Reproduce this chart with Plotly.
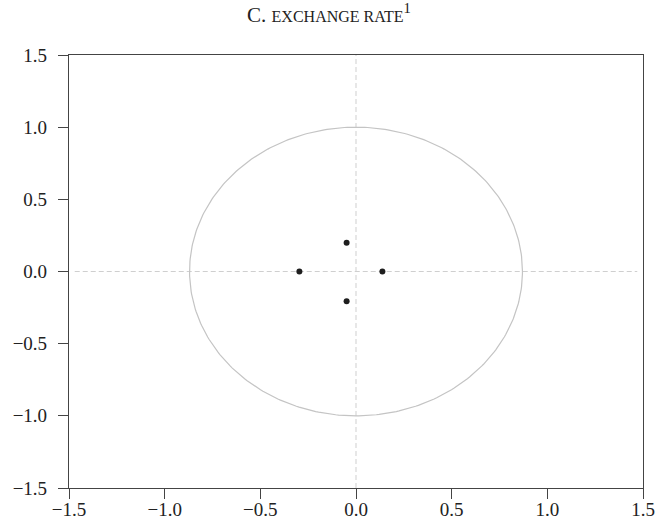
import numpy as np
import plotly.graph_objects as go

# Data: eigenvalue-like points (real, imaginary)
point_x = [-0.296, 0.138, -0.049, -0.049]
point_y = [0.0, 0.0, 0.199, -0.206]

tick_vals = [-1.5, -1.0, -0.5, 0.0, 0.5, 1.0, 1.5]
tick_text = ["\u22121.5", "\u22121.0", "\u22120.5", "0.0", "0.5", "1.0", "1.5"]

circle_rx = 0.87
circle_ry = 1.0

title_text = ("C. <span style='font-size:16px'>EXCHANGE RATE</span>"
              "<sup>1</sup>")

fig = go.Figure()

# reference unit circle
theta = np.linspace(0, 2 * np.pi, 361)
fig.add_trace(go.Scatter(x=circle_rx * np.cos(theta), y=circle_ry * np.sin(theta),
                         mode="lines", line=dict(color="#c4c4c4", width=1.2),
                         hoverinfo="skip", showlegend=False))

# axis cross lines
fig.add_shape(type="line", x0=-1.47, x1=1.47, y0=0, y1=0, xref="x", yref="y",
              line=dict(color="#cfcfcf", width=1, dash="5px,3px"), layer="below")
fig.add_shape(type="line", x0=0, x1=0, y0=-1.5, y1=1.5, xref="x", yref="y",
              line=dict(color="#cfcfcf", width=1, dash="5px,3px"), layer="below")

fig.add_trace(go.Scatter(x=point_x, y=point_y, mode="markers",
                         marker=dict(color="#1e1e1e", size=6),
                         showlegend=False))

axis_common = dict(range=[-1.5, 1.5], tickvals=tick_vals, ticktext=tick_text,
                   showgrid=False, zeroline=False, showline=True, mirror=True,
                   linecolor="#444", linewidth=1.2, ticks="outside",
                   ticklen=10, tickcolor="#444", tickwidth=1.2, automargin=False,
                   tickfont=dict(family="Liberation Serif", size=19, color="#222"))

fig.update_xaxes(**axis_common, ticklabelstandoff=-6)
fig.update_yaxes(**axis_common, ticklabelstandoff=7)

fig.update_layout(
    width=662, height=526,
    margin=dict(l=69, r=19, t=55, b=38),
    plot_bgcolor="white", paper_bgcolor="white",
    title=dict(text=title_text, x=0.497, xanchor="center", y=0.972, yanchor="middle",
               font=dict(family="Liberation Serif", size=21, color="#222")),
)

fig.write_html("out.html")
